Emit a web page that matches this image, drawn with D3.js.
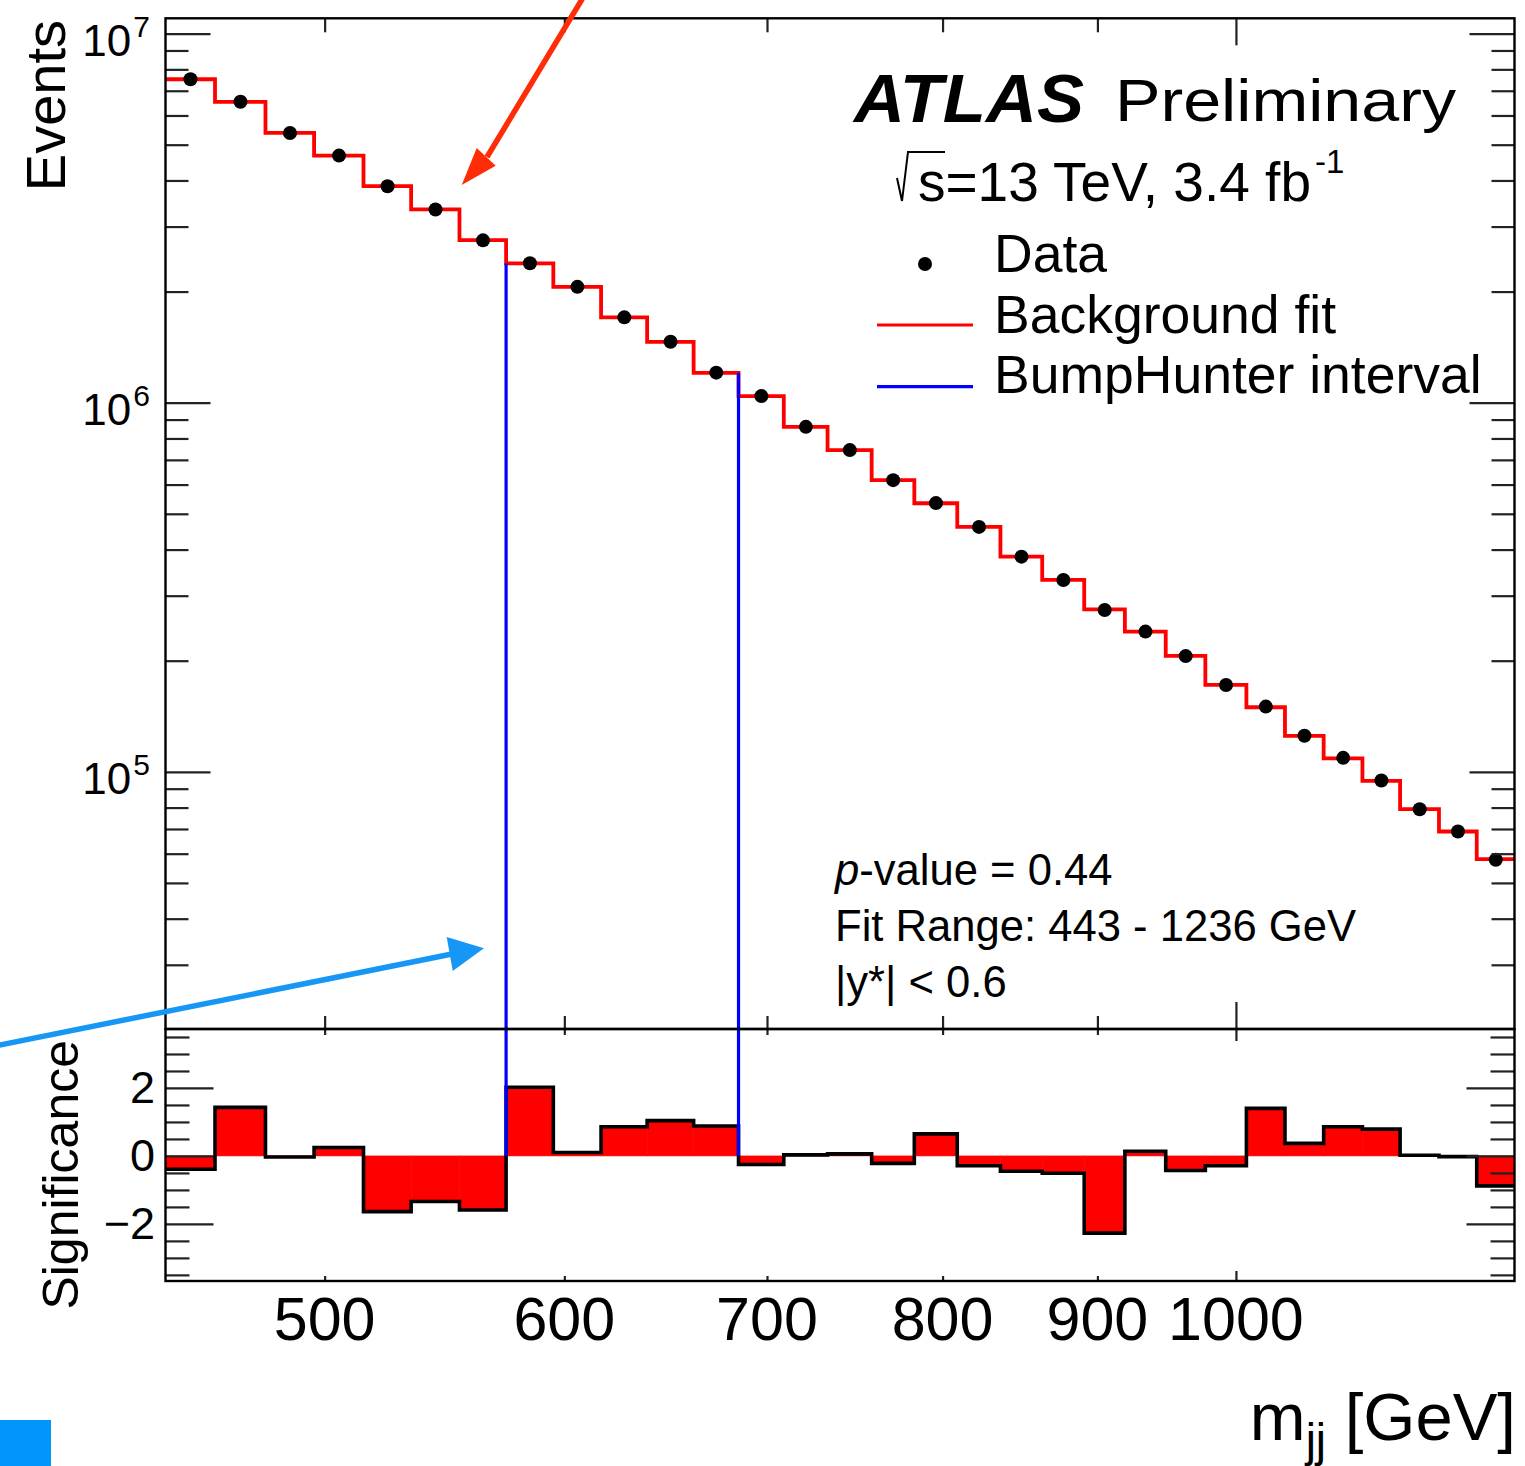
<!DOCTYPE html>
<html>
<head>
<meta charset="utf-8">
<script src="https://cdn.jsdelivr.net/npm/d3@7"></script>
<style>
    body { margin: 0; background: #fff; }
    svg { display: block; font-family: "Liberation Sans", Arial, Helvetica, sans-serif; }
</style>
</head>
<body>
<div id="wrapper"></div>
<script>
// bin edges in m_jj [GeV]
const binEdges = [443, 460, 478, 496, 515, 534, 554, 574, 595, 617, 639, 662, 685, 709, 733, 758,
    783, 809, 836, 863, 891, 919, 948, 977, 1008, 1038, 1069, 1101, 1133, 1167, 1201, 1236];

// background fit, events per bin
const bkgFit = [7.52e6, 6.53e6, 5.38e6, 4.67e6, 3.86e6, 3.34e6, 2.756e6, 2.384e6, 2.06e6, 1.702e6,
    1.462e6, 1.205e6, 1.042e6, 8.6e5, 7.44e5, 6.17e5, 5.34e5, 4.61e5, 3.83e5, 3.31e5,
    2.756e5, 2.397e5, 2.06e5, 1.719e5, 1.496e5, 1.251e5, 1.088e5, 9.45e4, 7.92e4, 6.89e4, 5.8e4];

// data, events per bin
const dataCounts = [7.519e6, 6.534e6, 5.38e6, 4.671e6, 3.857e6, 3.338e6, 2.753e6, 2.387e6, 2.06e6, 1.703e6,
    1.463e6, 1.206e6, 1.042e6, 8.6e5, 7.44e5, 6.168e5, 5.345e5, 4.608e5, 3.827e5, 3.307e5,
    2.745e5, 2.398e5, 2.058e5, 1.718e5, 1.502e5, 1.252e5, 1.091e5, 9.47e4, 7.92e4, 6.89e4, 5.78e4];

// significance per bin (lower panel)
const significance = [-0.39, 1.43, -0.03, 0.25, -1.64, -1.34, -1.59, 2.02, 0.10, 0.86,
    1.04, 0.88, -0.25, 0.03, 0.06, -0.22, 0.65, -0.29, -0.45, -0.51,
    -2.27, 0.14, -0.43, -0.29, 1.40, 0.37, 0.86, 0.79, 0.02, -0.02, -0.88];

// BumpHunter interval [GeV]
const bumpInterval = [574, 685];

const xTickValues = [500, 600, 700, 800, 900];
const xMajorTick = [1000];
const yMajorTicks = [1e5, 1e6, 1e7];
const sigMajorTicks = [-2, 0, 2];
const legendLabels = ["Data", "Background fit", "BumpHunter interval"];
const infoLines = ["-value = 0.44", "Fit Range: 443 - 1236 GeV", "|y*| < 0.6"];

const dimensions = {
    width: 1525,
    height: 1466,
    left: 165.5,
    right: 1514.5,
    top: 18.3,
    split: 1029,
    bottom: 1281,
};

const wrapper = d3.select("#wrapper")
    .append("svg")
    .attr("width", dimensions.width)
    .attr("height", dimensions.height);

wrapper.append("rect")
    .attr("width", dimensions.width)
    .attr("height", dimensions.height)
    .attr("fill", "#fff");

const xScale = d3.scaleLog()
    .domain([443, 1236])
    .range([dimensions.left, dimensions.right]);

const yScale = d3.scaleLog()
    .domain([2.01e4, 1.1e7])
    .range([dimensions.split, dimensions.top]);

const sScale = d3.scaleLinear()
    .domain([-3.68, 3.735])
    .range([dimensions.bottom, dimensions.split]);

const defs = wrapper.append("defs");
defs.append("clipPath").attr("id", "clip-top")
    .append("rect")
    .attr("x", dimensions.left).attr("y", dimensions.top)
    .attr("width", dimensions.right - dimensions.left)
    .attr("height", dimensions.split - dimensions.top);
defs.append("clipPath").attr("id", "clip-bottom")
    .append("rect")
    .attr("x", dimensions.left).attr("y", dimensions.split)
    .attr("width", dimensions.right - dimensions.left)
    .attr("height", dimensions.bottom - dimensions.split);

const stepLine = d3.line().curve(d3.curveStepAfter);
const stepPoints = (values, scale) => binEdges.map((e, i) => [xScale(e), scale(values[Math.min(i, values.length - 1)])]);

// ---------- upper panel ----------
const upperPanel = wrapper.append("g").attr("clip-path", "url(#clip-top)");

upperPanel.append("path")
    .attr("d", stepLine(stepPoints(bkgFit, yScale)))
    .attr("fill", "none")
    .attr("stroke", "#ff0000")
    .attr("stroke-width", 3.8);

upperPanel.selectAll(".dot")
    .data(dataCounts)
    .enter()
    .append("circle")
    .attr("class", "dot")
    .attr("cx", (d, i) => xScale((binEdges[i] + binEdges[i + 1]) / 2))
    .attr("cy", d => yScale(d))
    .attr("r", 7)
    .attr("fill", "#000");

const bumpLo = binEdges.indexOf(bumpInterval[0]);
const bumpHi = binEdges.indexOf(bumpInterval[1]) - 1;

upperPanel.selectAll(".bump")
    .data([[bumpInterval[0], bkgFit[bumpLo]], [bumpInterval[1], bkgFit[bumpHi]]])
    .enter()
    .append("line")
    .attr("x1", d => xScale(d[0]))
    .attr("x2", d => xScale(d[0]))
    .attr("y1", d => yScale(d[1]))
    .attr("y2", dimensions.split)
    .attr("stroke", "#0000ff")
    .attr("stroke-width", 3.2);

// ---------- lower panel ----------
const lowerPanel = wrapper.append("g").attr("clip-path", "url(#clip-bottom)");

lowerPanel.selectAll(".sig")
    .data(significance)
    .enter()
    .append("rect")
    .attr("x", (d, i) => xScale(binEdges[i]))
    .attr("width", (d, i) => xScale(binEdges[i + 1]) - xScale(binEdges[i]))
    .attr("y", d => Math.min(sScale(d), sScale(0)))
    .attr("height", d => Math.abs(sScale(d) - sScale(0)))
    .attr("fill", "#ff0000")
    .attr("stroke", "#ff0000")
    .attr("stroke-width", 0.6);

lowerPanel.append("path")
    .attr("d", stepLine(stepPoints(significance, sScale)))
    .attr("fill", "none")
    .attr("stroke", "#000")
    .attr("stroke-width", 3.6);

lowerPanel.selectAll(".bump")
    .data(bumpInterval)
    .enter()
    .append("line")
    .attr("x1", d => xScale(d))
    .attr("x2", d => xScale(d))
    .attr("y1", dimensions.split)
    .attr("y2", sScale(0))
    .attr("stroke", "#0000ff")
    .attr("stroke-width", 3.2);

// ---------- axes / ticks ----------
const tickStyle = g => {
    g.select(".domain").remove();
    g.selectAll(".tick line").attr("stroke", "#222").attr("stroke-width", 2.2);
};

const yMinor = yScale.ticks().filter(v => !yMajorTicks.includes(v));
const sigMinor = d3.range(-3.5, 3.6, 0.5).filter(v => !sigMajorTicks.includes(v));

const addTicks = (axis, values, size, transform) => {
    wrapper.append("g")
        .attr("transform", transform)
        .call(axis.tickValues(values).tickSize(size).tickFormat(""))
        .call(tickStyle);
};

// upper y ticks, left + right
addTicks(d3.axisLeft(yScale), yMajorTicks, -45, `translate(${dimensions.left},0)`);
addTicks(d3.axisLeft(yScale), yMinor, -23, `translate(${dimensions.left},0)`);
addTicks(d3.axisRight(yScale), yMajorTicks, -45, `translate(${dimensions.right},0)`);
addTicks(d3.axisRight(yScale), yMinor, -23, `translate(${dimensions.right},0)`);

// lower y ticks, left + right
addTicks(d3.axisLeft(sScale), sigMajorTicks, -48, `translate(${dimensions.left},0)`);
addTicks(d3.axisLeft(sScale), sigMinor, -24, `translate(${dimensions.left},0)`);
addTicks(d3.axisRight(sScale), sigMajorTicks, -48, `translate(${dimensions.right},0)`);
addTicks(d3.axisRight(sScale), sigMinor, -24, `translate(${dimensions.right},0)`);

// x ticks on the four horizontal frame lines
addTicks(d3.axisTop(xScale), xTickValues, -14, `translate(0,${dimensions.top})`);
addTicks(d3.axisTop(xScale), xMajorTick, -27, `translate(0,${dimensions.top})`);
addTicks(d3.axisBottom(xScale), xTickValues, -13, `translate(0,${dimensions.split})`);
addTicks(d3.axisBottom(xScale), xMajorTick, -27, `translate(0,${dimensions.split})`);
addTicks(d3.axisTop(xScale), xTickValues, -6, `translate(0,${dimensions.split})`);
addTicks(d3.axisTop(xScale), xMajorTick, -12, `translate(0,${dimensions.split})`);
addTicks(d3.axisBottom(xScale), xTickValues, -5, `translate(0,${dimensions.bottom})`);
addTicks(d3.axisBottom(xScale), xMajorTick, -10, `translate(0,${dimensions.bottom})`);

// frames
[[dimensions.top, dimensions.split], [dimensions.split, dimensions.bottom]].forEach(([y0, y1]) => {
    wrapper.append("rect")
        .attr("x", dimensions.left).attr("y", y0)
        .attr("width", dimensions.right - dimensions.left)
        .attr("height", y1 - y0)
        .attr("fill", "none")
        .attr("stroke", "#000")
        .attr("stroke-width", 2.4);
});

// tick labels
const yLabel = wrapper.selectAll(".y-label")
    .data(yMajorTicks)
    .enter()
    .append("text")
    .attr("x", 150)
    .attr("y", d => yScale(d) + 22)
    .attr("text-anchor", "end")
    .attr("font-size", 44);
yLabel.append("tspan").text("10");
yLabel.append("tspan")
    .attr("dx", 2)
    .attr("dy", -19)
    .attr("font-size", 30)
    .text(d => Math.round(Math.log10(d)));

wrapper.selectAll(".s-label")
    .data(sigMajorTicks)
    .enter()
    .append("text")
    .attr("x", 155)
    .attr("y", d => sScale(d) + 15)
    .attr("text-anchor", "end")
    .attr("font-size", 45)
    .text(d => d < 0 ? "\u2212" + Math.abs(d) : d);

wrapper.selectAll(".x-label")
    .data([...xTickValues, ...xMajorTick])
    .enter()
    .append("text")
    .attr("x", d => xScale(d))
    .attr("y", 1340)
    .attr("text-anchor", "middle")
    .attr("font-size", 61)
    .text(d => d);

// axis titles
wrapper.append("text")
    .attr("transform", "translate(65,20) rotate(-90)")
    .attr("text-anchor", "end")
    .attr("font-size", 56)
    .text("Events");

wrapper.append("text")
    .attr("transform", "translate(78,1040) rotate(-90)")
    .attr("text-anchor", "end")
    .attr("font-size", 50)
    .text("Significance");

const xTitle = wrapper.append("text")
    .attr("x", 1516)
    .attr("y", 1440)
    .attr("text-anchor", "end")
    .attr("font-size", 67);
xTitle.append("tspan").text("m");
xTitle.append("tspan").attr("dy", 16).attr("font-size", 46).text("jj");
xTitle.append("tspan").attr("dy", -16).text(" [GeV]");

// ATLAS label
wrapper.append("text")
    .attr("x", 854).attr("y", 121.7)
    .attr("font-size", 69)
    .attr("font-weight", "bold")
    .attr("font-style", "italic")
    .attr("textLength", 230)
    .attr("lengthAdjust", "spacingAndGlyphs")
    .text("ATLAS");

wrapper.append("text")
    .attr("x", 1115).attr("y", 120.5)
    .attr("font-size", 60)
    .attr("textLength", 341)
    .attr("lengthAdjust", "spacingAndGlyphs")
    .text("Preliminary");

wrapper.append("path")
    .attr("d", "M897,178 L902,201 L908,152 L945,152")
    .attr("fill", "none")
    .attr("stroke", "#000")
    .attr("stroke-width", 2);

const energy = wrapper.append("text")
    .attr("x", 918).attr("y", 201)
    .attr("font-size", 55);
energy.append("tspan").text("s=13 TeV, 3.4 fb");
energy.append("tspan").attr("dx", 4).attr("dy", -28).attr("font-size", 33).text("-1");

// legend
const legendY = [264, 325, 386.7];
wrapper.append("circle")
    .attr("cx", 925).attr("cy", legendY[0]).attr("r", 7).attr("fill", "#000");
[["#ff0000", legendY[1]], ["#0000ff", legendY[2]]].forEach(([c, y]) => {
    wrapper.append("line")
        .attr("x1", 877).attr("x2", 973)
        .attr("y1", y).attr("y2", y)
        .attr("stroke", c)
        .attr("stroke-width", 3.2);
});
wrapper.selectAll(".legend-label")
    .data(legendLabels)
    .enter()
    .append("text")
    .attr("x", 994)
    .attr("y", (d, i) => [272, 333, 393][i])
    .attr("font-size", 53.5)
    .text(d => d);

// fit info
const info = wrapper.selectAll(".info")
    .data(infoLines)
    .enter()
    .append("text")
    .attr("x", 835)
    .attr("y", (d, i) => 885 + i * 56)
    .attr("font-size", 43.6);
info.filter((d, i) => i === 0)
    .append("tspan").attr("font-style", "italic").text("p");
info.append("tspan").text(d => d);

// ---------- annotation arrows ----------
wrapper.append("line")
    .attr("x1", 584).attr("y1", -4)
    .attr("x2", 487).attr("y2", 157)
    .attr("stroke", "#fe2c07")
    .attr("stroke-width", 5.5);
wrapper.append("polygon")
    .attr("points", "461.7,185 476.7,148 495.7,165.7")
    .attr("fill", "#fe2c07");

wrapper.append("line")
    .attr("x1", -5).attr("y1", 1046)
    .attr("x2", 452).attr("y2", 954)
    .attr("stroke", "#1797f5")
    .attr("stroke-width", 5.5);
wrapper.append("polygon")
    .attr("points", "484,948.3 446.7,937 452.7,971")
    .attr("fill", "#1797f5");

wrapper.append("rect")
    .attr("x", 0).attr("y", 1420)
    .attr("width", 51).attr("height", 46)
    .attr("fill", "#0096fb");
</script>
</body>
</html>
